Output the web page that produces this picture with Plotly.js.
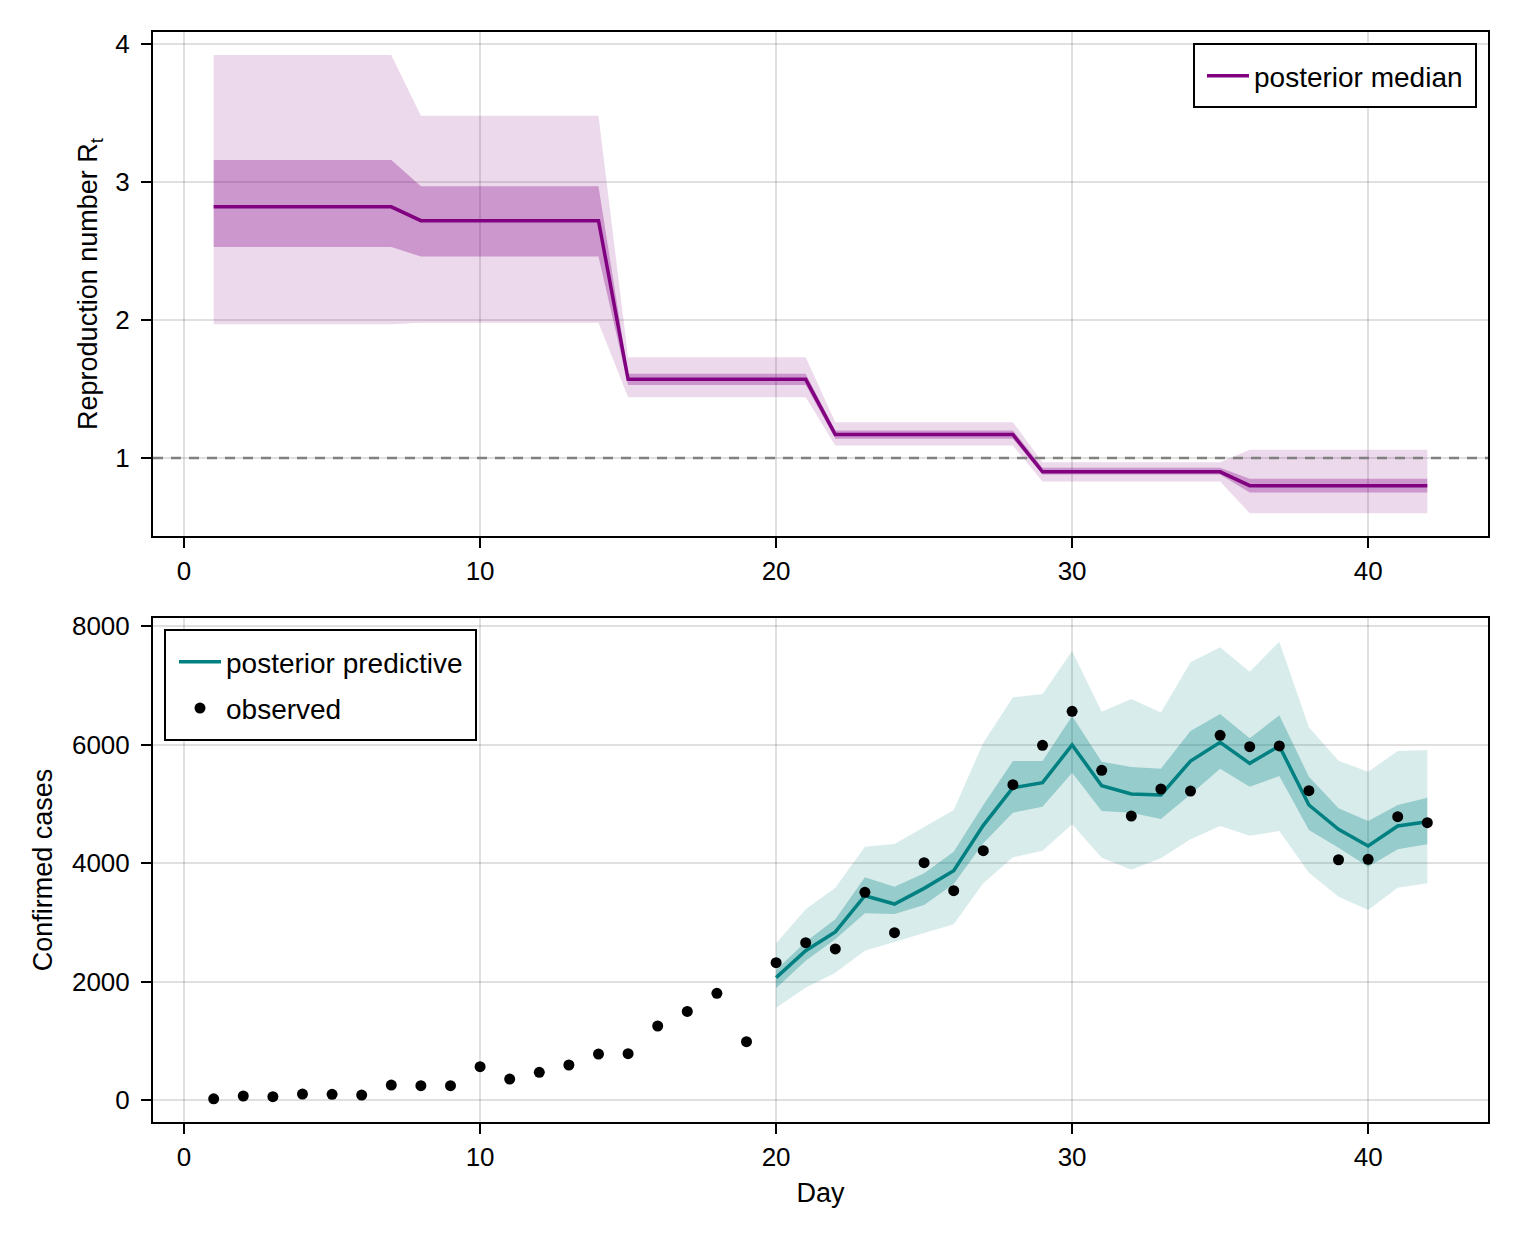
<!DOCTYPE html>
<html>
<head>
<meta charset="utf-8">
<script src="https://cdn.plot.ly/plotly-3.0.1.min.js"></script>
<style>
  body { margin: 0; background: #fff; }
  #chart_area { width: 1520px; height: 1240px; }
</style>
</head>
<body>
<div id="chart_area"></div>
<script>
// days 1..42
var days = [1, 2, 3, 4, 5, 6, 7, 8, 9, 10, 11, 12, 13, 14, 15, 16, 17, 18, 19, 20, 21,
            22, 23, 24, 25, 26, 27, 28, 29, 30, 31, 32, 33, 34, 35, 36, 37, 38, 39, 40, 41, 42];

// reproduction number, posterior summaries per day
var rtMedian = [2.82, 2.82, 2.82, 2.82, 2.82, 2.82, 2.82, 2.72, 2.72, 2.72, 2.72, 2.72, 2.72, 2.72,
                1.57, 1.57, 1.57, 1.57, 1.57, 1.57, 1.57, 1.17, 1.17, 1.17, 1.17, 1.17, 1.17, 1.17,
                0.90, 0.90, 0.90, 0.90, 0.90, 0.90, 0.90, 0.80, 0.80, 0.80, 0.80, 0.80, 0.80, 0.80];
var rtInnerLo = [2.53, 2.53, 2.53, 2.53, 2.53, 2.53, 2.53, 2.46, 2.46, 2.46, 2.46, 2.46, 2.46, 2.46,
                 1.53, 1.53, 1.53, 1.53, 1.53, 1.53, 1.53, 1.14, 1.14, 1.14, 1.14, 1.14, 1.14, 1.14,
                 0.88, 0.88, 0.88, 0.88, 0.88, 0.88, 0.88, 0.75, 0.75, 0.75, 0.75, 0.75, 0.75, 0.75];
var rtInnerHi = [3.16, 3.16, 3.16, 3.16, 3.16, 3.16, 3.16, 2.97, 2.97, 2.97, 2.97, 2.97, 2.97, 2.97,
                 1.61, 1.61, 1.61, 1.61, 1.61, 1.61, 1.61, 1.20, 1.20, 1.20, 1.20, 1.20, 1.20, 1.20,
                 0.93, 0.93, 0.93, 0.93, 0.93, 0.93, 0.93, 0.85, 0.85, 0.85, 0.85, 0.85, 0.85, 0.85];
var rtOuterLo = [1.97, 1.97, 1.97, 1.97, 1.97, 1.97, 1.97, 1.98, 1.98, 1.98, 1.98, 1.98, 1.98, 1.98,
                 1.44, 1.44, 1.44, 1.44, 1.44, 1.44, 1.44, 1.09, 1.09, 1.09, 1.09, 1.09, 1.09, 1.09,
                 0.83, 0.83, 0.83, 0.83, 0.83, 0.83, 0.83, 0.60, 0.60, 0.60, 0.60, 0.60, 0.60, 0.60];
var rtOuterHi = [3.92, 3.92, 3.92, 3.92, 3.92, 3.92, 3.92, 3.48, 3.48, 3.48, 3.48, 3.48, 3.48, 3.48,
                 1.73, 1.73, 1.73, 1.73, 1.73, 1.73, 1.73, 1.26, 1.26, 1.26, 1.26, 1.26, 1.26, 1.26,
                 0.97, 0.97, 0.97, 0.97, 0.97, 0.97, 0.97, 1.06, 1.06, 1.06, 1.06, 1.06, 1.06, 1.06];

// observed confirmed cases, days 1..42
var observed = [20, 68, 56, 101, 96, 84, 253, 242, 242, 563, 354, 467, 591, 776, 782, 1249, 1496,
                1800, 985, 2318, 2655, 2549, 3505, 2824, 4005, 3533, 4208, 5322, 5987, 6560, 5564,
                4793, 5249, 5215, 6155, 5963, 5975, 5221, 4055, 4062, 4782, 4681];

// posterior predictive, days 20..42
var predDays = [20, 21, 22, 23, 24, 25, 26, 27, 28, 29, 30, 31, 32, 33, 34, 35, 36, 37, 38, 39, 40, 41, 42];
var predMedian = [2066, 2520, 2836, 3448, 3308, 3572, 3870, 4636, 5271, 5356, 5992, 5305,
                  5165, 5148, 5721, 6037, 5682, 5975, 4979, 4568, 4287, 4625, 4697];
var predInnerHi = [2194, 2672, 3049, 3758, 3600, 3826, 4191, 4979, 5721, 5721, 6481, 5710,
                   5620, 5592, 6228, 6515, 6104, 6492, 5457, 4923, 4709, 4979, 5102];
var predInnerLo = [1885, 2351, 2712, 3150, 3139, 3291, 3646, 4332, 4849, 4950, 5525, 4878,
                   4849, 4743, 5158, 5592, 5288, 5468, 4557, 4258, 3938, 4231, 4315];
var predOuterHi = [2644, 3218, 3584, 4275, 4321, 4602, 4894, 6030, 6796, 6852, 7578, 6554,
                   6768, 6540, 7387, 7640, 7229, 7736, 6290, 5727, 5541, 5890, 5907];
var predOuterLo = [1558, 1895, 2149, 2520, 2672, 2813, 2965, 3657, 4096, 4208, 4653, 4090,
                   3887, 4079, 4400, 4625, 4461, 4540, 3837, 3431, 3207, 3583, 3657];

var dayTicks = [0, 10, 20, 30, 40];
var rtTicks = [1, 2, 3, 4];
var caseTicks = [0, 2000, 4000, 6000, 8000];

function band(x, lo, hi, color, xa, ya) {
  return {
    type: 'scatter',
    x: x.concat(x.slice().reverse()),
    y: hi.concat(lo.slice().reverse()),
    fill: 'toself',
    fillcolor: color,
    line: { width: 0 },
    mode: 'lines',
    hoverinfo: 'skip',
    showlegend: false,
    xaxis: xa, yaxis: ya
  };
}

var purple = '#800080';
var teal = '#008080';

var data = [
  band(days, rtOuterLo, rtOuterHi, 'rgba(128,0,128,0.15)', 'x', 'y'),
  band(days, rtInnerLo, rtInnerHi, 'rgba(128,0,128,0.30)', 'x', 'y'),
  {
    type: 'scatter', mode: 'lines', name: 'posterior median',
    x: days, y: rtMedian,
    line: { color: purple, width: 3.5 },
    xaxis: 'x', yaxis: 'y', legend: 'legend'
  },
  band(predDays, predOuterLo, predOuterHi, 'rgba(0,128,128,0.15)', 'x2', 'y2'),
  band(predDays, predInnerLo, predInnerHi, 'rgba(0,128,128,0.30)', 'x2', 'y2'),
  {
    type: 'scatter', mode: 'lines', name: 'posterior predictive',
    x: predDays, y: predMedian,
    line: { color: teal, width: 3.5 },
    xaxis: 'x2', yaxis: 'y2', legend: 'legend2', legendgroup: 'pred'
  },
  {
    type: 'scatter', mode: 'markers', name: 'observed',
    x: days, y: observed,
    marker: { color: 'black', size: 11 },
    xaxis: 'x2', yaxis: 'y2', legend: 'legend2', legendgroup: 'obs'
  }
];

var font = { family: 'Liberation Sans, Arial, sans-serif', size: 26, color: 'black' };
var titleFont = { family: 'Liberation Sans, Arial, sans-serif', size: 27, color: 'black' };
var legendFont = { family: 'Liberation Sans, Arial, sans-serif', size: 28, color: 'black' };

function axisBase() {
  return {
    showline: true, linecolor: 'black', linewidth: 2, mirror: true,
    ticks: 'outside', ticklen: 10, tickwidth: 2, tickcolor: 'black',
    showgrid: true, gridcolor: 'rgba(0,0,0,0.12)', gridwidth: 2,
    zeroline: false, tickfont: font
  };
}

var xDomain = [153 / 1520, 1488 / 1520];

var xaxis = Object.assign(axisBase(), {
  domain: xDomain, range: [-1.05, 44.05], tickvals: dayTicks, anchor: 'y', ticklabelstandoff: 1
});
var yaxis = Object.assign(axisBase(), {
  domain: [1 - 536 / 1240, 1 - 32 / 1240], range: [0.435, 4.087], tickvals: rtTicks, anchor: 'x',
  ticklabelstandoff: 6,
  title: { text: 'Reproduction number R<sub>t</sub>', font: titleFont, standoff: 10 }
});
var xaxis2 = Object.assign(axisBase(), {
  domain: xDomain, range: [-1.05, 44.05], tickvals: dayTicks, anchor: 'y2', ticklabelstandoff: 1,
  title: { text: 'Day', font: titleFont, standoff: 12 }
});
var yaxis2 = Object.assign(axisBase(), {
  domain: [1 - 1122 / 1240, 1 - 618 / 1240], range: [-371, 8135], tickvals: caseTicks, anchor: 'x2',
  ticklabelstandoff: 6,
  title: { text: 'Confirmed cases', font: titleFont, standoff: 12 }
});

// legend frames are drawn as white boxes, legends sit inside them
var legendStyle = {
  font: legendFont, bgcolor: 'rgba(0,0,0,0)', borderwidth: 0,
  xref: 'paper', yref: 'paper', itemwidth: 42,
  traceorder: 'grouped', tracegroupgap: 7
};

function px(v) { return v / 1520; }
function py(v) { return 1 - v / 1240; }

var layout = {
  width: 1520, height: 1240, autosize: false,
  margin: { l: 0, r: 0, t: 0, b: 0 },
  paper_bgcolor: 'white', plot_bgcolor: 'white',
  font: font,
  xaxis: xaxis, yaxis: yaxis, xaxis2: xaxis2, yaxis2: yaxis2,
  legend: Object.assign({}, legendStyle, { x: px(1202), xanchor: 'left', y: py(76), yanchor: 'middle' }),
  legend2: Object.assign({}, legendStyle, { x: px(174), xanchor: 'left', y: py(685), yanchor: 'middle' }),
  shapes: [
    {
      type: 'line', xref: 'x domain', yref: 'y', x0: 0, x1: 1, y0: 1, y1: 1,
      line: { color: 'rgb(128,128,128)', width: 2.5, dash: '10px,8px' }
    },
    {
      type: 'rect', xref: 'paper', yref: 'paper', layer: 'above',
      x0: px(1194), x1: px(1476), y0: py(107), y1: py(44),
      fillcolor: 'white', line: { color: 'black', width: 2 }
    },
    {
      type: 'rect', xref: 'paper', yref: 'paper', layer: 'above',
      x0: px(165), x1: px(476), y0: py(740), y1: py(630),
      fillcolor: 'white', line: { color: 'black', width: 2 }
    }
  ]
};

var config = { staticPlot: true };

Plotly.newPlot('chart_area', data, layout, config);
</script>
</body>
</html>
